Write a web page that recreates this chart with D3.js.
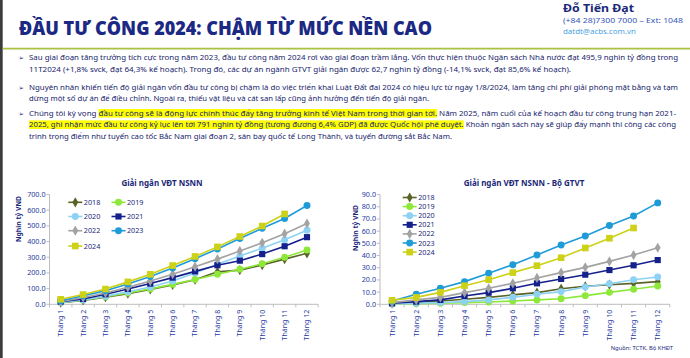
<!DOCTYPE html>
<html><head><meta charset="utf-8">
<script src="https://cdn.jsdelivr.net/npm/d3@7"></script>
<style>body{margin:0;background:#fff}svg{display:block}</style>
</head><body>
<script>
// ---------- DATA ----------
const months = ["Tháng 1","Tháng 2","Tháng 3","Tháng 4","Tháng 5","Tháng 6","Tháng 7","Tháng 8","Tháng 9","Tháng 10","Tháng 11","Tháng 12"];
const years = ["2018","2019","2020","2021","2022","2023","2024"];

// Giải ngân VĐT NSNN (nghìn tỷ VND, lũy kế)
const nsnn2018 = [10, 25, 45, 68, 95, 124, 157, 207, 218, 250, 288, 325];
const nsnn2019 = [12, 28, 48, 72, 98, 127, 158, 191, 224, 258, 300, 346];
const nsnn2020 = [11, 27, 52, 80, 110, 148, 200, 255, 308, 358, 411, 472];
const nsnn2021 = [17, 34, 64, 98, 132, 170, 210, 249, 278, 320, 370, 428];
const nsnn2022 = [17, 43, 72, 108, 148, 192, 240, 288, 340, 392, 450, 515];
const nsnn2023 = [23, 55, 87, 130, 177, 232, 291, 353, 419, 485, 547, 630];
const nsnn2024 = [32, 62, 97, 143, 191, 247, 305, 366, 432, 499, 576, null];

// Giải ngân VĐT NSNN - Bộ GTVT
const gtvt2018 = [0.8, 1.6, 2.7, 4.1, 5.7, 7.7, 9.6, 12.8, 14.8, 16.1, 17.2, 18.6];
const gtvt2019 = [0.3, 0.5, 0.8, 1.4, 1.9, 2.7, 3.6, 4.6, 7.1, 9.8, 12.3, 15.0];
const gtvt2020 = [0.3, 0.8, 1.4, 2.2, 3.6, 5.7, 8.2, 10.4, 14.2, 16.9, 20.2, 22.4];
const gtvt2021 = [0.8, 2.2, 3.6, 6.8, 9.6, 13.1, 17.2, 20.8, 24.3, 28.1, 32.0, 36.3];
const gtvt2022 = [1.4, 3.6, 5.7, 9.6, 13.1, 17.2, 21.6, 26.0, 30.3, 35.2, 40.4, 46.4];
const gtvt2023 = [2.7, 8.2, 13.1, 18.6, 25.4, 32.5, 40.4, 48.6, 56.0, 64.6, 72.5, 83.2];
const gtvt2024 = [3.3, 5.7, 9.8, 15.3, 20.2, 26.0, 31.7, 38.2, 46.2, 54.2, 62.6, null];

const ticksNSNN = [0, 100, 200, 300, 400, 500, 600, 700];
const ticksGTVT = [0, 10, 20, 30, 40, 50, 60, 70, 80, 90];

const titleText = "ĐẦU TƯ CÔNG 2024: CHẬM TỪ MỨC NỀN CAO";
const authorName = "Đỗ Tiến Đạt";
const authorPhone = "(+84 28)7300 7000 – Ext: 1048";
const authorEmail = "datdt@acbs.com.vn";
const chart1Title = "Giải ngân VĐT NSNN";
const chart2Title = "Giải ngân VĐT NSNN - Bộ GTVT";
const yAxisTitle = "Nghìn tỷ VND";
const sourceText = "Nguồn: TCTK, Bộ KHĐT";

const bulletLines = [
 ["Sau giai đoạn tăng trưởng tích cực trong năm 2023, đầu tư công năm 2024 rơi vào giai đoạn trầm lắng. Vốn thực hiện thuộc Ngân sách Nhà nước đạt 495,9 nghìn tỷ đồng trong",
  "11T2024 (+1,8% svck, đạt 64,3% kế hoạch). Trong đó, các dự án ngành GTVT giải ngân được 62,7 nghìn tỷ đồng (-14,1% svck, đạt 85,6% kế hoạch)."],
 ["Nguyên nhân khiến tiến độ giải ngân vốn đầu tư công bị chậm là do việc triển khai Luật Đất đai 2024 có hiệu lực từ ngày 1/8/2024, làm tăng chi phí giải phóng mặt bằng và tạm",
  "dừng một số dự án để điều chỉnh. Ngoài ra, thiếu vật liệu và cát san lấp cũng ảnh hưởng đến tiến độ giải ngân."],
 ["Chúng tôi kỳ vọng đầu tư công sẽ là động lực chính thúc đẩy tăng trưởng kinh tế Việt Nam trong thời gian tới. Năm 2025, năm cuối của kế hoạch đầu tư công trung hạn 2021-",
  "2025, ghi nhận mức đầu tư công kỷ lục lên tới 791 nghìn tỷ đồng (tương đương 6,4% GDP) đã được Quốc hội phê duyệt. Khoản ngân sách này sẽ giúp đẩy mạnh thi công các công",
  "trình trọng điểm như tuyến cao tốc Bắc Nam giai đoạn 2, sân bay quốc tế Long Thành, và tuyến đường sắt Bắc Nam."]
];
const highlights = [
 "đầu tư công sẽ là động lực chính thúc đẩy tăng trưởng kinh tế Việt Nam trong thời gian tới.",
 "2025, ghi nhận mức đầu tư công kỷ lục lên tới 791 nghìn tỷ đồng (tương đương 6,4% GDP) đã được Quốc hội phê duyệt."
];

// ---------- STYLE ----------
const seriesColors = ["#5b6426", "#8ee83a", "#8dd2f3", "#14208c", "#a3a3a3", "#1f9bd8", "#cdd117"];
const seriesShapes = [d3.symbolDiamond, d3.symbolCircle, d3.symbolCircle, d3.symbolSquare, d3.symbolDiamond, d3.symbolCircle, d3.symbolSquare];
const seriesSizes = [30, 38, 38, 38, 30, 38, 44];
const navy = "#1a2878";
const tickBlue = "#2839a0";
const font = "'Noto Sans', 'Open Sans', sans-serif";

const W = 690, H = 358;
const svg = d3.select("body").append("svg").attr("width", W).attr("height", H)
  .style("font-family", font);
svg.append("rect").attr("width", W).attr("height", H).attr("fill", "#fff");
svg.append("rect").attr("x", 0).attr("y", 0).attr("width", 2.7).attr("height", H).attr("fill", "#3c3c3c");

// header
svg.append("text").attr("x", 19).attr("y", 35).text(titleText)
  .attr("font-family", "'Open Sans', 'Noto Sans', sans-serif")
  .attr("font-size", 18.5).attr("font-weight", 800).attr("fill", "#1b2984")
  .attr("textLength", 413).attr("lengthAdjust", "spacingAndGlyphs");
svg.append("line").attr("x1", 2.7).attr("x2", W).attr("y1", 48.6).attr("y2", 48.6)
  .attr("stroke", "#a9c243").attr("stroke-width", 1.6);
svg.append("text").attr("x", 563).attr("y", 11.5).text(authorName)
  .attr("font-size", 10).attr("font-weight", 700).attr("fill", navy)
  .attr("textLength", 71).attr("lengthAdjust", "spacingAndGlyphs");
svg.append("text").attr("x", 563).attr("y", 23).text(authorPhone)
  .attr("font-size", 7.6).attr("fill", "#3556b8")
  .attr("textLength", 120).attr("lengthAdjust", "spacingAndGlyphs");
svg.append("text").attr("x", 563).attr("y", 34).text(authorEmail)
  .attr("font-size", 7.6).attr("fill", "#4a9fe0")
  .attr("textLength", 73).attr("lengthAdjust", "spacingAndGlyphs");

// bullets
const lineBaselines = [[60.4, 71.7], [90.4, 101.4], [116, 127.4, 138.7]];
const lineEnds = [[678, 571], [678, 429], [676, 676, 452]];
const hlLayer = svg.append("g");
const textLayer = svg.append("g");
bulletLines.forEach((lines, bi) => {
  textLayer.append("text").attr("x", 18.5).attr("y", lineBaselines[bi][0] - 0.3)
    .text("➢").attr("font-family", "'DejaVu Sans'").attr("font-size", 6.5).attr("fill", navy);
  lines.forEach((ln, li) => {
    const t = textLayer.append("text").attr("x", 29).attr("y", lineBaselines[bi][li])
      .text(ln).attr("font-size", 7.7).attr("fill", "#17246c")
      .attr("textLength", lineEnds[bi][li] - 29).attr("lengthAdjust", "spacingAndGlyphs");
    highlights.forEach(h => {
      const idx = ln.indexOf(h);
      if (idx >= 0) {
        const node = t.node();
        const s = node.getExtentOfChar(idx);
        const e = node.getExtentOfChar(idx + h.length - 1);
        hlLayer.append("rect").attr("x", s.x).attr("y", lineBaselines[bi][li] - 7)
          .attr("width", e.x + e.width - s.x).attr("height", 8.6).attr("fill", "#ffff00");
      }
    });
  });
});

// ---------- CHARTS ----------
function drawChart(cfg) {
  const g = svg.append("g");
  const x = d3.scaleBand().domain(months).range([cfg.x0, cfg.x1]);
  const y = d3.scaleLinear().domain([0, cfg.max]).range([cfg.yb, cfg.yt]);
  g.append("line").attr("x1", cfg.x0).attr("x2", cfg.x0).attr("y1", cfg.yt).attr("y2", cfg.yb)
    .attr("stroke", "#bdbdbd").attr("stroke-width", 1);
  g.append("line").attr("x1", cfg.x0).attr("x2", cfg.x1).attr("y1", cfg.yb).attr("y2", cfg.yb)
    .attr("stroke", "#bdbdbd").attr("stroke-width", 1);
  cfg.ticks.forEach(v => {
    g.append("line").attr("x1", cfg.x0 - 3).attr("x2", cfg.x0).attr("y1", y(v)).attr("y2", y(v))
      .attr("stroke", "#bdbdbd");
    g.append("text").attr("x", cfg.x0 - 4).attr("y", y(v)).attr("dy", "0.35em")
      .attr("text-anchor", "end").attr("font-size", 7.2).attr("fill", tickBlue).text(d3.format(".1f")(v));
  });
  for (let i = 0; i <= months.length; i++) {
    const xx = cfg.x0 + i * x.step();
    g.append("line").attr("x1", xx).attr("x2", xx).attr("y1", cfg.yb).attr("y2", cfg.yb + 3)
      .attr("stroke", "#bdbdbd");
  }
  months.forEach(m => {
    const cx = x(m) + x.bandwidth() / 2;
    g.append("text").attr("transform", `translate(${cx},${cfg.yb + 5.5}) rotate(-90)`)
      .attr("text-anchor", "end").attr("dy", "0.35em").attr("font-size", 7)
      .attr("fill", tickBlue).text(m);
  });
  g.append("text").attr("x", cfg.tx).attr("y", 186).attr("text-anchor", "middle")
    .attr("font-size", 8).attr("font-weight", 700).attr("fill", navy).text(cfg.title);
  g.append("text").attr("transform", `translate(${cfg.yTitleX},${cfg.yTitleY}) rotate(-90)`)
    .attr("text-anchor", "middle").attr("dy", "0.35em").attr("font-size", 6.8).attr("font-weight", 700)
    .attr("fill", navy).text(yAxisTitle);
  const line = d3.line().defined(d => d.v != null)
    .x(d => x(d.m) + x.bandwidth() / 2).y(d => y(d.v));
  cfg.series.forEach((arr, i) => {
    const pts = months.map((m, k) => ({ m, v: arr[k] }));
    g.append("path").datum(pts).attr("d", line).attr("fill", "none")
      .attr("stroke", seriesColors[i]).attr("stroke-width", 1.6);
    g.selectAll(null).data(pts.filter(d => d.v != null)).enter().append("path")
      .attr("transform", d => `translate(${x(d.m) + x.bandwidth() / 2},${y(d.v)})`)
      .attr("d", d3.symbol().type(seriesShapes[i]).size(seriesSizes[i]))
      .attr("fill", seriesColors[i]);
  });
  years.forEach((yr, i) => {
    const p = cfg.legendPos(i);
    g.append("line").attr("x1", p.x).attr("x2", p.x + 14).attr("y1", p.y).attr("y2", p.y)
      .attr("stroke", seriesColors[i]).attr("stroke-width", 1.6);
    g.append("path").attr("transform", `translate(${p.x + 7},${p.y})`)
      .attr("d", d3.symbol().type(seriesShapes[i]).size(seriesSizes[i])).attr("fill", seriesColors[i]);
    g.append("text").attr("x", p.x + 15.5).attr("y", p.y).attr("dy", "0.35em")
      .attr("font-size", 7.2).attr("fill", navy).text(yr);
  });
}

drawChart({
  x0: 49.5, x1: 318.2, yt: 194.5, yb: 304.3, max: 700, ticks: ticksNSNN,
  series: [nsnn2018, nsnn2019, nsnn2020, nsnn2021, nsnn2022, nsnn2023, nsnn2024],
  title: chart1Title, tx: 162, yTitleX: 18.5, yTitleY: 219,
  legendPos: i => ({ x: [68.3, 111.5][i % 2], y: [202.3, 216.5, 230.7, 246][Math.floor(i / 2)] })
});
drawChart({
  x0: 380, x1: 669.8, yt: 194.6, yb: 304.3, max: 90, ticks: ticksGTVT,
  series: [gtvt2018, gtvt2019, gtvt2020, gtvt2021, gtvt2022, gtvt2023, gtvt2024],
  title: chart2Title, tx: 524, yTitleX: 356, yTitleY: 228,
  legendPos: i => ({ x: 402.7, y: 197.5 + i * 9.1 })
});

svg.append("text").attr("x", 673).attr("y", 349.5).attr("text-anchor", "end")
  .attr("font-size", 5.8).attr("fill", navy).text(sourceText);
</script>
</body></html>
